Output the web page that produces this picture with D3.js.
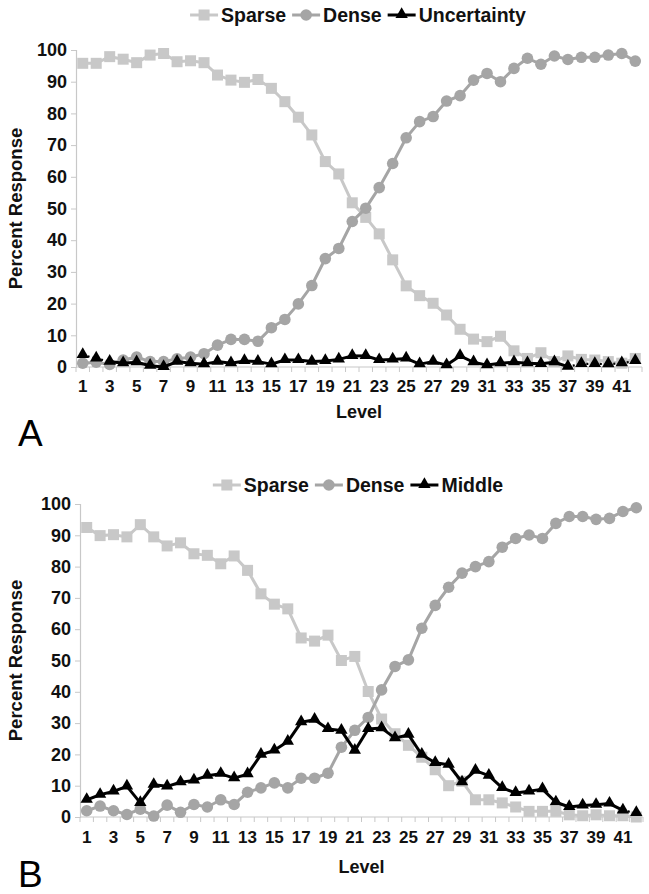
<!DOCTYPE html>
<html>
<head>
<meta charset="utf-8">
<script src="https://cdn.jsdelivr.net/npm/d3@7"></script>
<style>
  body { margin: 0; background: #fff; }
  svg { display: block; font-family: "Liberation Sans", Arial, sans-serif; }
</style>
</head>
<body>
<div id="chart"></div>
<script>
let levels = d3.range(1, 43);
let yTicks = [0, 10, 20, 30, 40, 50, 60, 70, 80, 90, 100];

// panel A
let sparseA = [95.8, 95.8, 97.9, 97.1, 96.0, 98.4, 98.9, 96.3, 96.6, 96.0, 92.1, 90.5, 89.8, 90.7, 87.9,
  83.7, 78.8, 73.2, 64.8, 60.9, 51.8, 47.2, 42.0, 33.8, 25.6, 22.5, 20.1, 16.4, 11.9, 8.8,
  8.0, 9.7, 5.1, 2.7, 4.5, 1.7, 3.5, 2.4, 2.2, 1.7, 1.2, 2.7];
let denseA = [1.2, 1.5, 0.8, 2.2, 3.1, 1.7, 1.7, 2.6, 3.1, 4.2, 6.9, 8.7, 8.7, 8.1, 12.4,
  15.0, 19.9, 25.7, 34.2, 37.4, 45.9, 50.1, 56.6, 64.2, 72.3, 77.4, 79.0, 83.9, 85.6, 90.5,
  92.6, 90.0, 94.2, 97.4, 95.5, 98.1, 97.0, 97.7, 97.7, 98.4, 98.9, 96.5];
let uncertaintyA = [3.8, 2.7, 1.7, 1.2, 1.5, 0.4, 0.0, 1.7, 1.2, 0.9, 1.7, 1.2, 1.9, 1.7, 0.9,
  2.2, 2.2, 1.7, 1.9, 2.4, 3.5, 3.5, 2.2, 2.4, 2.7, 0.9, 1.7, 0.6, 3.5, 1.5,
  0.6, 1.2, 1.5, 1.2, 1.0, 1.5, 0.1, 1.0, 1.0, 0.9, 1.2, 1.9];

// panel B
let sparseB = [92.5, 89.9, 90.2, 89.5, 93.4, 89.5, 86.6, 87.6, 84.1, 83.6, 80.9, 83.4, 78.8, 71.3, 68.0,
  66.5, 57.2, 56.2, 58.1, 50.0, 51.3, 40.1, 31.3, 26.6, 22.9, 19.1, 15.1, 10.0, 11.4, 5.5,
  5.5, 4.5, 3.2, 1.8, 1.8, 1.8, 0.7, 0.4, 0.7, 0.4, 0.4, 0.0];
let denseB = [2.0, 3.5, 2.0, 0.8, 2.5, 0.3, 3.8, 1.5, 4.0, 3.2, 5.5, 4.0, 7.9, 9.3, 10.9,
  9.3, 12.4, 12.4, 14.0, 22.3, 27.7, 31.8, 40.6, 48.1, 50.2, 60.3, 67.6, 73.4, 77.9, 80.0,
  81.6, 86.2, 89.0, 90.1, 89.0, 93.8, 96.0, 96.0, 95.1, 95.4, 97.6, 98.8];
let middleB = [5.5, 7.1, 8.2, 9.8, 4.5, 10.3, 9.8, 11.1, 11.7, 13.2, 13.8, 12.4, 13.7, 19.9, 21.3,
  24.1, 30.3, 31.1, 28.1, 27.6, 21.2, 28.1, 28.4, 25.2, 26.3, 19.9, 17.3, 16.7, 11.1, 14.8,
  13.2, 9.3, 7.7, 8.2, 8.9, 4.7, 3.2, 3.7, 3.9, 4.3, 2.1, 1.3];

let width = 649, height = 894;
let colors = {sparse: '#c8c8c8', dense: '#a5a5a5', third: '#000'};

let panels = [
  {letter: 'A', x0: 76, x1: 642, yTop: 50, yBot: 367, legendY: 15, legendCx: 358,
   labelY: 392, levelY: 418, letterY: 446, thirdName: 'Uncertainty',
   series: [sparseA, denseA, uncertaintyA], dotted: [[0, 2], [36, 41]]},
  {letter: 'B', x0: 80, x1: 643, yTop: 504, yBot: 817, legendY: 485, legendCx: 358,
   labelY: 843, levelY: 873, letterY: 887, thirdName: 'Middle',
   series: [sparseB, denseB, middleB], dotted: [[40, 41]]}
];

let svg = d3.select('#chart')
  .append('svg')
  .attr('width', width)
  .attr('height', height);

let triangle = d3.symbol().type(d3.symbolTriangle).size(66);

function marker(g, kind, color) {
  if (kind === 0) {
    g.append('rect').attr('x', -5.5).attr('y', -5.5).attr('width', 11).attr('height', 11).attr('fill', color);
  } else if (kind === 1) {
    g.append('circle').attr('r', 5.8).attr('fill', color);
  } else {
    g.append('path').attr('d', triangle).attr('transform', 'translate(0,-0.5)').attr('fill', color);
  }
}

panels.forEach(p => {
  let x = d3.scaleBand().domain(levels).range([p.x0, p.x1]);
  let y = d3.scaleLinear().domain([0, 100]).range([p.yBot, p.yTop]);
  let cx = d => x(d) + x.bandwidth() / 2;
  let g = svg.append('g');

  // y axis
  let yAxis = g.append('g')
    .attr('transform', `translate(${p.x0},0)`)
    .call(d3.axisLeft(y).tickValues(yTicks).tickSize(5).tickPadding(4));
  yAxis.select('.domain').attr('stroke', '#c8c8c8').attr('stroke-width', 1.2);
  yAxis.selectAll('.tick line').attr('stroke', '#c8c8c8');
  yAxis.selectAll('.tick text')
    .attr('font-size', 18).attr('font-weight', 'bold').attr('fill', '#111')
    .attr('font-family', '"Liberation Sans", Arial, sans-serif');

  // x axis: light line, boundary ticks, odd labels
  g.append('line')
    .attr('x1', p.x0).attr('x2', p.x1)
    .attr('y1', p.yBot).attr('y2', p.yBot)
    .attr('stroke', '#c8c8c8').attr('stroke-width', 1.2);
  g.selectAll('line.xtick')
    .data(levels.concat([43]))
    .enter().append('line')
    .attr('class', 'xtick')
    .attr('x1', d => d === 43 ? p.x1 : x(d)).attr('x2', d => d === 43 ? p.x1 : x(d))
    .attr('y1', p.yBot).attr('y2', p.yBot + 5)
    .attr('stroke', '#c8c8c8');
  g.selectAll('text.xlab')
    .data(levels.filter(d => d % 2 === 1))
    .enter().append('text')
    .attr('class', 'xlab')
    .attr('x', cx).attr('y', p.labelY)
    .attr('text-anchor', 'middle')
    .attr('font-size', 17).attr('font-weight', 'bold').attr('fill', '#111')
    .text(d => d);

  g.append('text')
    .attr('x', (p.x0 + p.x1) / 2).attr('y', p.levelY)
    .attr('text-anchor', 'middle')
    .attr('font-size', 18).attr('font-weight', 'bold').attr('fill', '#111')
    .text('Level');

  g.append('text')
    .attr('transform', `translate(22,${(p.yTop + p.yBot) / 2}) rotate(-90)`)
    .attr('text-anchor', 'middle')
    .attr('font-size', 18.5).attr('font-weight', 'bold').attr('fill', '#111')
    .text('Percent Response');

  g.append('text')
    .attr('x', 18).attr('y', p.letterY)
    .attr('font-size', 37).attr('fill', '#000')
    .text(p.letter);

  // series
  let line = d3.line().x((d, i) => cx(levels[i])).y(d => y(d));
  let cols = [colors.sparse, colors.dense, colors.third];
  p.series.forEach((vals, si) => {
    if (si < 2) {
      g.append('path')
        .attr('d', line(vals))
        .attr('fill', 'none')
        .attr('stroke', cols[si])
        .attr('stroke-width', 3);
    } else {
      // solid and dotted stretches of the dark line
      vals.slice(0, -1).forEach((v, i) => {
        let dot = p.dotted.some(([a, b]) => i >= a && i < b);
        g.append('line')
          .attr('x1', cx(levels[i])).attr('y1', y(v))
          .attr('x2', cx(levels[i + 1])).attr('y2', y(vals[i + 1]))
          .attr('stroke', '#000')
          .attr('stroke-width', dot ? 2.2 : 3)
          .attr('stroke-dasharray', dot ? '2,3' : null);
      });
    }
    let m = g.selectAll(null)
      .data(vals)
      .enter().append('g')
      .attr('transform', (d, i) => `translate(${cx(levels[i])},${y(d)})`);
    m.each(function() { marker(d3.select(this), si, cols[si]); });
  });

  // legend, centred over the plot
  let names = ['Sparse', 'Dense', p.thirdName];
  let legend = g.append('g');
  let lx = 0;
  names.forEach((n, i) => {
    let lg = legend.append('g').attr('transform', `translate(${lx},${p.legendY})`);
    lg.append('line').attr('x1', 0).attr('x2', 28).attr('stroke', cols[i]).attr('stroke-width', 3);
    let mk = lg.append('g').attr('transform', 'translate(14,0)');
    marker(mk, i, cols[i]);
    let t = lg.append('text')
      .attr('x', 31).attr('y', 7)
      .attr('font-size', 19.5).attr('font-weight', 'bold').attr('fill', '#111')
      .text(n);
    lx += 31 + t.node().getComputedTextLength() + 6;
  });
  legend.attr('transform', `translate(${p.legendCx - (lx - 6) / 2},0)`);
});
</script>
</body>
</html>
